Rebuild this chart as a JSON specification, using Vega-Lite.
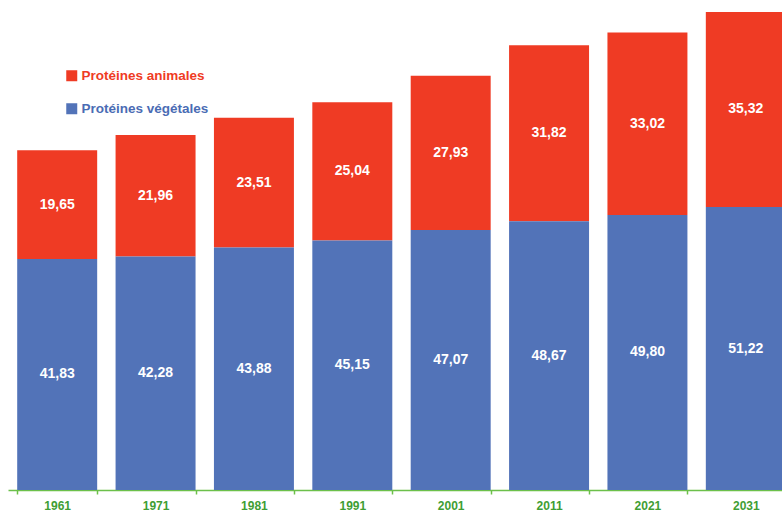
{
  "$schema": "https://vega.github.io/schema/vega-lite/v6.json",
  "autosize": "none",
  "width": 787,
  "height": 490,
  "padding": {"left": 8, "top": 0, "right": 0, "bottom": 21},
  "background": "white",
  "config": {
    "view": {"stroke": null},
    "locale": {"number": {"decimal": ",", "thousands": " ", "grouping": [3], "currency": ["", " €"]}}
  },
  "data": {
    "values": [
      {"year": "1961", "type": "Protéines animales", "value": 19.65},
      {"year": "1961", "type": "Protéines végétales", "value": 41.83},
      {"year": "1971", "type": "Protéines animales", "value": 21.96},
      {"year": "1971", "type": "Protéines végétales", "value": 42.28},
      {"year": "1981", "type": "Protéines animales", "value": 23.51},
      {"year": "1981", "type": "Protéines végétales", "value": 43.88},
      {"year": "1991", "type": "Protéines animales", "value": 25.04},
      {"year": "1991", "type": "Protéines végétales", "value": 45.15},
      {"year": "2001", "type": "Protéines animales", "value": 27.93},
      {"year": "2001", "type": "Protéines végétales", "value": 47.07},
      {"year": "2011", "type": "Protéines animales", "value": 31.82},
      {"year": "2011", "type": "Protéines végétales", "value": 48.67},
      {"year": "2021", "type": "Protéines animales", "value": 33.02},
      {"year": "2021", "type": "Protéines végétales", "value": 49.80},
      {"year": "2031", "type": "Protéines animales", "value": 35.32},
      {"year": "2031", "type": "Protéines végétales", "value": 51.22}
    ]
  },
  "encoding": {
    "x": {
      "field": "year", "type": "ordinal",
      "scale": {"paddingInner": 0.187, "paddingOuter": 0.0935},
      "axis": {
        "title": null, "labelAngle": 0, "domainColor": "#6cc04a", "domainWidth": 1.5,
        "tickColor": "#6cc04a", "tickWidth": 1.5, "tickSize": 4, "tickBand": "extent",
        "labelColor": "#3f9e34", "labelFont": "Liberation Sans", "labelFontWeight": "bold",
        "labelFontSize": 12, "labelPadding": 6
      }
    },
    "y": {
      "field": "value", "type": "quantitative", "stack": "zero",
      "scale": {"domain": [0, 88.7], "nice": false},
      "axis": null
    },
    "order": {"field": "type", "sort": "descending"}
  },
  "layer": [
    {
      "mark": {"type": "bar"},
      "encoding": {
        "color": {
          "field": "type", "type": "nominal",
          "scale": {"domain": ["Protéines animales", "Protéines végétales"], "range": ["#ef3b24", "#5273b8"]},
          "legend": {
            "title": null, "orient": "none", "legendX": 57, "legendY": 69,
            "symbolType": "square", "symbolSize": 121, "symbolStrokeWidth": 0,
            "labelFont": "Liberation Sans", "labelFontWeight": "bold", "labelFontSize": 13.5,
            "labelOffset": 3, "rowPadding": 18, "padding": 0,
            "encode": {
              "labels": {"update": {"fill": {"signal": "datum.value == 'Protéines animales' ? '#ef3b24' : '#4a6cb4'"}}}
            }
          }
        }
      }
    },
    {
      "mark": {"type": "text", "color": "white", "font": "Liberation Sans", "fontWeight": "bold", "fontSize": 14, "baseline": "middle"},
      "encoding": {
        "y": {"field": "value", "type": "quantitative", "stack": "zero", "bandPosition": 0.5},
        "text": {"field": "value", "type": "quantitative", "format": ".2f"}
      }
    }
  ]
}
